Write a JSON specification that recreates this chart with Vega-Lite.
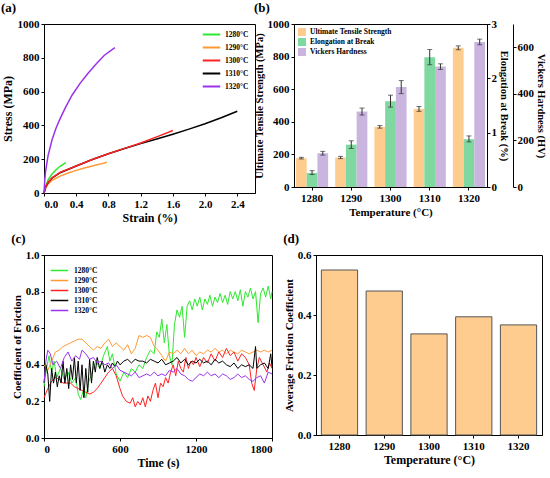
{
  "$schema": "https://vega.github.io/schema/vega-lite/v6.json",
  "padding": {"left": 0, "top": 1, "right": 0, "bottom": 0},
  "config": {
    "font": "Liberation Serif",
    "view": {"stroke": "black", "strokeWidth": 1},
    "axis": {
      "labelFont": "Liberation Serif", "titleFont": "Liberation Serif",
      "labelFontWeight": "bold", "titleFontWeight": "bold",
      "labelFontSize": 11, "titleFontSize": 12,
      "labelColor": "black", "titleColor": "black",
      "domainColor": "black", "tickColor": "black",
      "grid": false, "tickSize": 3, "labelPadding": 2, "titlePadding": 3
    },
    "legend": {
      "labelFont": "Liberation Serif", "labelFontWeight": "bold",
      "labelFontSize": 7.5, "labelColor": "black"
    },
    "title": {
      "font": "Liberation Serif", "fontWeight": "bold", "fontSize": 13,
      "anchor": "start", "frame": "bounds", "color": "black", "offset": 3
    }
  },
  "datasets": {
    "stress": [
      {"T": "1280°C", "x": 0, "y": 0}, {"T": "1280°C", "x": 0.02, "y": 40}, {"T": "1280°C", "x": 0.05, "y": 78},
      {"T": "1280°C", "x": 0.1, "y": 112}, {"T": "1280°C", "x": 0.15, "y": 138}, {"T": "1280°C", "x": 0.2, "y": 158},
      {"T": "1280°C", "x": 0.27, "y": 180},
      {"T": "1290°C", "x": 0, "y": 0}, {"T": "1290°C", "x": 0.02, "y": 28}, {"T": "1290°C", "x": 0.05, "y": 52},
      {"T": "1290°C", "x": 0.1, "y": 75}, {"T": "1290°C", "x": 0.2, "y": 100}, {"T": "1290°C", "x": 0.3, "y": 118},
      {"T": "1290°C", "x": 0.4, "y": 134}, {"T": "1290°C", "x": 0.5, "y": 148}, {"T": "1290°C", "x": 0.6, "y": 160},
      {"T": "1290°C", "x": 0.7, "y": 171}, {"T": "1290°C", "x": 0.78, "y": 182},
      {"T": "1310°C", "x": 0, "y": 0}, {"T": "1310°C", "x": 0.02, "y": 35}, {"T": "1310°C", "x": 0.05, "y": 60},
      {"T": "1310°C", "x": 0.1, "y": 88}, {"T": "1310°C", "x": 0.2, "y": 120}, {"T": "1310°C", "x": 0.4, "y": 160},
      {"T": "1310°C", "x": 0.6, "y": 198}, {"T": "1310°C", "x": 0.8, "y": 232}, {"T": "1310°C", "x": 1.0, "y": 263},
      {"T": "1310°C", "x": 1.2, "y": 292}, {"T": "1310°C", "x": 1.4, "y": 320}, {"T": "1310°C", "x": 1.6, "y": 348},
      {"T": "1310°C", "x": 1.8, "y": 378}, {"T": "1310°C", "x": 2.0, "y": 410}, {"T": "1310°C", "x": 2.2, "y": 445},
      {"T": "1310°C", "x": 2.4, "y": 484},
      {"T": "1300°C", "x": 0, "y": 0}, {"T": "1300°C", "x": 0.02, "y": 35}, {"T": "1300°C", "x": 0.05, "y": 62},
      {"T": "1300°C", "x": 0.1, "y": 90}, {"T": "1300°C", "x": 0.2, "y": 122}, {"T": "1300°C", "x": 0.4, "y": 160},
      {"T": "1300°C", "x": 0.6, "y": 198}, {"T": "1300°C", "x": 0.8, "y": 232}, {"T": "1300°C", "x": 1.0, "y": 264},
      {"T": "1300°C", "x": 1.2, "y": 296}, {"T": "1300°C", "x": 1.4, "y": 332}, {"T": "1300°C", "x": 1.6, "y": 370},
      {"T": "1320°C", "x": 0, "y": 0}, {"T": "1320°C", "x": 0.01, "y": 80}, {"T": "1320°C", "x": 0.02, "y": 130},
      {"T": "1320°C", "x": 0.05, "y": 220}, {"T": "1320°C", "x": 0.1, "y": 315}, {"T": "1320°C", "x": 0.15, "y": 385},
      {"T": "1320°C", "x": 0.2, "y": 440}, {"T": "1320°C", "x": 0.27, "y": 510}, {"T": "1320°C", "x": 0.35, "y": 580},
      {"T": "1320°C", "x": 0.45, "y": 650}, {"T": "1320°C", "x": 0.55, "y": 710}, {"T": "1320°C", "x": 0.65, "y": 765},
      {"T": "1320°C", "x": 0.75, "y": 815}, {"T": "1320°C", "x": 0.88, "y": 860}
    ],
    "props": [
      {"T": "1280", "s": "Ultimate Tensile Strength", "v": 177, "lo": 172, "hi": 182},
      {"T": "1290", "s": "Ultimate Tensile Strength", "v": 181, "lo": 174, "hi": 188},
      {"T": "1300", "s": "Ultimate Tensile Strength", "v": 369, "lo": 361, "hi": 377},
      {"T": "1310", "s": "Ultimate Tensile Strength", "v": 479, "lo": 464, "hi": 494},
      {"T": "1320", "s": "Ultimate Tensile Strength", "v": 854, "lo": 842, "hi": 866},
      {"T": "1280", "s": "Elongation at Break", "v": 0.26, "lo": 0.23, "hi": 0.3},
      {"T": "1290", "s": "Elongation at Break", "v": 0.78, "lo": 0.71, "hi": 0.85},
      {"T": "1300", "s": "Elongation at Break", "v": 1.58, "lo": 1.47, "hi": 1.69},
      {"T": "1310", "s": "Elongation at Break", "v": 2.39, "lo": 2.25, "hi": 2.53},
      {"T": "1320", "s": "Elongation at Break", "v": 0.88, "lo": 0.83, "hi": 0.94},
      {"T": "1280", "s": "Vickers Hardness", "v": 145, "lo": 137, "hi": 153},
      {"T": "1290", "s": "Vickers Hardness", "v": 324, "lo": 309, "hi": 339},
      {"T": "1300", "s": "Vickers Hardness", "v": 429, "lo": 401, "hi": 457},
      {"T": "1310", "s": "Vickers Hardness", "v": 517, "lo": 505, "hi": 529},
      {"T": "1320", "s": "Vickers Hardness", "v": 623, "lo": 611, "hi": 635}
    ],
    "friction": [
      {"T": "1280°C", "t": 0, "v": 0.28}, {"T": "1280°C", "t": 20, "v": 0.38}, {"T": "1280°C", "t": 40, "v": 0.45},
      {"T": "1280°C", "t": 60, "v": 0.36}, {"T": "1280°C", "t": 80, "v": 0.42}, {"T": "1280°C", "t": 100, "v": 0.33},
      {"T": "1280°C", "t": 130, "v": 0.38}, {"T": "1280°C", "t": 160, "v": 0.32}, {"T": "1280°C", "t": 190, "v": 0.36},
      {"T": "1280°C", "t": 220, "v": 0.3}, {"T": "1280°C", "t": 250, "v": 0.33}, {"T": "1280°C", "t": 270, "v": 0.24},
      {"T": "1280°C", "t": 290, "v": 0.21}, {"T": "1280°C", "t": 310, "v": 0.26}, {"T": "1280°C", "t": 330, "v": 0.22},
      {"T": "1280°C", "t": 350, "v": 0.3}, {"T": "1280°C", "t": 380, "v": 0.36}, {"T": "1280°C", "t": 410, "v": 0.42},
      {"T": "1280°C", "t": 440, "v": 0.38}, {"T": "1280°C", "t": 470, "v": 0.45}, {"T": "1280°C", "t": 500, "v": 0.5},
      {"T": "1280°C", "t": 520, "v": 0.42}, {"T": "1280°C", "t": 540, "v": 0.46}, {"T": "1280°C", "t": 570, "v": 0.35},
      {"T": "1280°C", "t": 600, "v": 0.31}, {"T": "1280°C", "t": 630, "v": 0.36}, {"T": "1280°C", "t": 660, "v": 0.33},
      {"T": "1280°C", "t": 690, "v": 0.38}, {"T": "1280°C", "t": 720, "v": 0.36}, {"T": "1280°C", "t": 750, "v": 0.4},
      {"T": "1280°C", "t": 780, "v": 0.38}, {"T": "1280°C", "t": 810, "v": 0.44}, {"T": "1280°C", "t": 840, "v": 0.48},
      {"T": "1280°C", "t": 870, "v": 0.46}, {"T": "1280°C", "t": 890, "v": 0.58}, {"T": "1280°C", "t": 910, "v": 0.55},
      {"T": "1280°C", "t": 930, "v": 0.65}, {"T": "1280°C", "t": 950, "v": 0.52}, {"T": "1280°C", "t": 970, "v": 0.62},
      {"T": "1280°C", "t": 990, "v": 0.45}, {"T": "1280°C", "t": 1010, "v": 0.4}, {"T": "1280°C", "t": 1030, "v": 0.62},
      {"T": "1280°C", "t": 1050, "v": 0.7}, {"T": "1280°C", "t": 1070, "v": 0.66}, {"T": "1280°C", "t": 1090, "v": 0.72},
      {"T": "1280°C", "t": 1110, "v": 0.55}, {"T": "1280°C", "t": 1130, "v": 0.72}, {"T": "1280°C", "t": 1150, "v": 0.75},
      {"T": "1280°C", "t": 1170, "v": 0.7}, {"T": "1280°C", "t": 1190, "v": 0.76}, {"T": "1280°C", "t": 1210, "v": 0.72},
      {"T": "1280°C", "t": 1230, "v": 0.77}, {"T": "1280°C", "t": 1250, "v": 0.7}, {"T": "1280°C", "t": 1270, "v": 0.76},
      {"T": "1280°C", "t": 1290, "v": 0.73}, {"T": "1280°C", "t": 1310, "v": 0.78}, {"T": "1280°C", "t": 1330, "v": 0.72},
      {"T": "1280°C", "t": 1350, "v": 0.77}, {"T": "1280°C", "t": 1370, "v": 0.74}, {"T": "1280°C", "t": 1390, "v": 0.79},
      {"T": "1280°C", "t": 1410, "v": 0.74}, {"T": "1280°C", "t": 1430, "v": 0.78}, {"T": "1280°C", "t": 1450, "v": 0.73},
      {"T": "1280°C", "t": 1470, "v": 0.8}, {"T": "1280°C", "t": 1490, "v": 0.76}, {"T": "1280°C", "t": 1510, "v": 0.8},
      {"T": "1280°C", "t": 1530, "v": 0.75}, {"T": "1280°C", "t": 1550, "v": 0.81}, {"T": "1280°C", "t": 1570, "v": 0.72},
      {"T": "1280°C", "t": 1590, "v": 0.8}, {"T": "1280°C", "t": 1610, "v": 0.77}, {"T": "1280°C", "t": 1630, "v": 0.82},
      {"T": "1280°C", "t": 1650, "v": 0.76}, {"T": "1280°C", "t": 1670, "v": 0.8}, {"T": "1280°C", "t": 1690, "v": 0.63},
      {"T": "1280°C", "t": 1710, "v": 0.79}, {"T": "1280°C", "t": 1730, "v": 0.82}, {"T": "1280°C", "t": 1750, "v": 0.77},
      {"T": "1280°C", "t": 1770, "v": 0.83}, {"T": "1280°C", "t": 1790, "v": 0.76}, {"T": "1280°C", "t": 1800, "v": 0.8},

      {"T": "1290°C", "t": 0, "v": 0.4}, {"T": "1290°C", "t": 30, "v": 0.37}, {"T": "1290°C", "t": 60, "v": 0.42},
      {"T": "1290°C", "t": 90, "v": 0.47}, {"T": "1290°C", "t": 120, "v": 0.48}, {"T": "1290°C", "t": 150, "v": 0.5},
      {"T": "1290°C", "t": 180, "v": 0.51}, {"T": "1290°C", "t": 210, "v": 0.52}, {"T": "1290°C", "t": 240, "v": 0.53},
      {"T": "1290°C", "t": 270, "v": 0.54}, {"T": "1290°C", "t": 300, "v": 0.54}, {"T": "1290°C", "t": 330, "v": 0.52},
      {"T": "1290°C", "t": 360, "v": 0.5}, {"T": "1290°C", "t": 390, "v": 0.48}, {"T": "1290°C", "t": 420, "v": 0.5},
      {"T": "1290°C", "t": 450, "v": 0.49}, {"T": "1290°C", "t": 480, "v": 0.52}, {"T": "1290°C", "t": 510, "v": 0.54},
      {"T": "1290°C", "t": 540, "v": 0.5}, {"T": "1290°C", "t": 570, "v": 0.52}, {"T": "1290°C", "t": 600, "v": 0.5},
      {"T": "1290°C", "t": 630, "v": 0.48}, {"T": "1290°C", "t": 660, "v": 0.51}, {"T": "1290°C", "t": 690, "v": 0.46},
      {"T": "1290°C", "t": 720, "v": 0.49}, {"T": "1290°C", "t": 750, "v": 0.56}, {"T": "1290°C", "t": 780, "v": 0.55},
      {"T": "1290°C", "t": 810, "v": 0.56}, {"T": "1290°C", "t": 840, "v": 0.55}, {"T": "1290°C", "t": 870, "v": 0.5},
      {"T": "1290°C", "t": 900, "v": 0.48}, {"T": "1290°C", "t": 930, "v": 0.45}, {"T": "1290°C", "t": 960, "v": 0.42},
      {"T": "1290°C", "t": 990, "v": 0.47}, {"T": "1290°C", "t": 1020, "v": 0.46}, {"T": "1290°C", "t": 1050, "v": 0.48},
      {"T": "1290°C", "t": 1080, "v": 0.46}, {"T": "1290°C", "t": 1110, "v": 0.49}, {"T": "1290°C", "t": 1140, "v": 0.46},
      {"T": "1290°C", "t": 1170, "v": 0.48}, {"T": "1290°C", "t": 1200, "v": 0.45}, {"T": "1290°C", "t": 1230, "v": 0.47},
      {"T": "1290°C", "t": 1260, "v": 0.46}, {"T": "1290°C", "t": 1290, "v": 0.48}, {"T": "1290°C", "t": 1320, "v": 0.47},
      {"T": "1290°C", "t": 1350, "v": 0.49}, {"T": "1290°C", "t": 1380, "v": 0.47}, {"T": "1290°C", "t": 1410, "v": 0.48},
      {"T": "1290°C", "t": 1440, "v": 0.46}, {"T": "1290°C", "t": 1470, "v": 0.48}, {"T": "1290°C", "t": 1500, "v": 0.47},
      {"T": "1290°C", "t": 1530, "v": 0.46}, {"T": "1290°C", "t": 1560, "v": 0.48}, {"T": "1290°C", "t": 1590, "v": 0.47},
      {"T": "1290°C", "t": 1620, "v": 0.46}, {"T": "1290°C", "t": 1650, "v": 0.47}, {"T": "1290°C", "t": 1680, "v": 0.48},
      {"T": "1290°C", "t": 1710, "v": 0.47}, {"T": "1290°C", "t": 1740, "v": 0.48}, {"T": "1290°C", "t": 1770, "v": 0.47},
      {"T": "1290°C", "t": 1800, "v": 0.48},

      {"T": "1300°C", "t": 0, "v": 0.22}, {"T": "1300°C", "t": 30, "v": 0.27}, {"T": "1300°C", "t": 60, "v": 0.31},
      {"T": "1300°C", "t": 90, "v": 0.33}, {"T": "1300°C", "t": 120, "v": 0.32}, {"T": "1300°C", "t": 150, "v": 0.3},
      {"T": "1300°C", "t": 180, "v": 0.3}, {"T": "1300°C", "t": 210, "v": 0.3}, {"T": "1300°C", "t": 240, "v": 0.28},
      {"T": "1300°C", "t": 270, "v": 0.27}, {"T": "1300°C", "t": 300, "v": 0.26}, {"T": "1300°C", "t": 330, "v": 0.25},
      {"T": "1300°C", "t": 360, "v": 0.24}, {"T": "1300°C", "t": 390, "v": 0.25}, {"T": "1300°C", "t": 420, "v": 0.27},
      {"T": "1300°C", "t": 450, "v": 0.3}, {"T": "1300°C", "t": 480, "v": 0.33}, {"T": "1300°C", "t": 510, "v": 0.36},
      {"T": "1300°C", "t": 540, "v": 0.38}, {"T": "1300°C", "t": 570, "v": 0.34}, {"T": "1300°C", "t": 600, "v": 0.27},
      {"T": "1300°C", "t": 620, "v": 0.23}, {"T": "1300°C", "t": 650, "v": 0.2}, {"T": "1300°C", "t": 680, "v": 0.19},
      {"T": "1300°C", "t": 700, "v": 0.22}, {"T": "1300°C", "t": 720, "v": 0.17}, {"T": "1300°C", "t": 740, "v": 0.2},
      {"T": "1300°C", "t": 760, "v": 0.18}, {"T": "1300°C", "t": 780, "v": 0.22}, {"T": "1300°C", "t": 800, "v": 0.17},
      {"T": "1300°C", "t": 820, "v": 0.23}, {"T": "1300°C", "t": 840, "v": 0.2}, {"T": "1300°C", "t": 860, "v": 0.26},
      {"T": "1300°C", "t": 880, "v": 0.3}, {"T": "1300°C", "t": 900, "v": 0.22}, {"T": "1300°C", "t": 920, "v": 0.3},
      {"T": "1300°C", "t": 940, "v": 0.28}, {"T": "1300°C", "t": 960, "v": 0.33}, {"T": "1300°C", "t": 980, "v": 0.3},
      {"T": "1300°C", "t": 1000, "v": 0.36}, {"T": "1300°C", "t": 1020, "v": 0.4}, {"T": "1300°C", "t": 1040, "v": 0.34},
      {"T": "1300°C", "t": 1060, "v": 0.42}, {"T": "1300°C", "t": 1080, "v": 0.38}, {"T": "1300°C", "t": 1100, "v": 0.36},
      {"T": "1300°C", "t": 1120, "v": 0.44}, {"T": "1300°C", "t": 1140, "v": 0.38}, {"T": "1300°C", "t": 1160, "v": 0.42},
      {"T": "1300°C", "t": 1180, "v": 0.4}, {"T": "1300°C", "t": 1200, "v": 0.44}, {"T": "1300°C", "t": 1230, "v": 0.39},
      {"T": "1300°C", "t": 1260, "v": 0.44}, {"T": "1300°C", "t": 1290, "v": 0.41}, {"T": "1300°C", "t": 1320, "v": 0.46},
      {"T": "1300°C", "t": 1350, "v": 0.42}, {"T": "1300°C", "t": 1380, "v": 0.47}, {"T": "1300°C", "t": 1410, "v": 0.44},
      {"T": "1300°C", "t": 1440, "v": 0.49}, {"T": "1300°C", "t": 1470, "v": 0.45}, {"T": "1300°C", "t": 1500, "v": 0.47},
      {"T": "1300°C", "t": 1530, "v": 0.42}, {"T": "1300°C", "t": 1560, "v": 0.46}, {"T": "1300°C", "t": 1590, "v": 0.44},
      {"T": "1300°C", "t": 1620, "v": 0.4}, {"T": "1300°C", "t": 1640, "v": 0.3}, {"T": "1300°C", "t": 1660, "v": 0.26},
      {"T": "1300°C", "t": 1680, "v": 0.38}, {"T": "1300°C", "t": 1700, "v": 0.44}, {"T": "1300°C", "t": 1730, "v": 0.4},
      {"T": "1300°C", "t": 1760, "v": 0.36}, {"T": "1300°C", "t": 1780, "v": 0.41}, {"T": "1300°C", "t": 1800, "v": 0.38},

      {"T": "1310°C", "t": 0, "v": 0.3}, {"T": "1310°C", "t": 15, "v": 0.4}, {"T": "1310°C", "t": 30, "v": 0.35},
      {"T": "1310°C", "t": 45, "v": 0.2}, {"T": "1310°C", "t": 60, "v": 0.38}, {"T": "1310°C", "t": 75, "v": 0.3},
      {"T": "1310°C", "t": 90, "v": 0.36}, {"T": "1310°C", "t": 105, "v": 0.28}, {"T": "1310°C", "t": 120, "v": 0.34},
      {"T": "1310°C", "t": 135, "v": 0.3}, {"T": "1310°C", "t": 150, "v": 0.42}, {"T": "1310°C", "t": 165, "v": 0.3},
      {"T": "1310°C", "t": 180, "v": 0.38}, {"T": "1310°C", "t": 195, "v": 0.27}, {"T": "1310°C", "t": 210, "v": 0.4},
      {"T": "1310°C", "t": 225, "v": 0.32}, {"T": "1310°C", "t": 240, "v": 0.44}, {"T": "1310°C", "t": 255, "v": 0.3},
      {"T": "1310°C", "t": 270, "v": 0.42}, {"T": "1310°C", "t": 285, "v": 0.26}, {"T": "1310°C", "t": 300, "v": 0.4},
      {"T": "1310°C", "t": 315, "v": 0.22}, {"T": "1310°C", "t": 330, "v": 0.38}, {"T": "1310°C", "t": 345, "v": 0.25},
      {"T": "1310°C", "t": 360, "v": 0.43}, {"T": "1310°C", "t": 375, "v": 0.3}, {"T": "1310°C", "t": 390, "v": 0.42},
      {"T": "1310°C", "t": 405, "v": 0.36}, {"T": "1310°C", "t": 420, "v": 0.44}, {"T": "1310°C", "t": 440, "v": 0.38},
      {"T": "1310°C", "t": 460, "v": 0.42}, {"T": "1310°C", "t": 480, "v": 0.36}, {"T": "1310°C", "t": 500, "v": 0.4},
      {"T": "1310°C", "t": 520, "v": 0.38}, {"T": "1310°C", "t": 540, "v": 0.41}, {"T": "1310°C", "t": 560, "v": 0.39},
      {"T": "1310°C", "t": 580, "v": 0.42}, {"T": "1310°C", "t": 600, "v": 0.4}, {"T": "1310°C", "t": 630, "v": 0.42},
      {"T": "1310°C", "t": 660, "v": 0.43}, {"T": "1310°C", "t": 690, "v": 0.41}, {"T": "1310°C", "t": 720, "v": 0.43},
      {"T": "1310°C", "t": 750, "v": 0.42}, {"T": "1310°C", "t": 780, "v": 0.42}, {"T": "1310°C", "t": 810, "v": 0.41},
      {"T": "1310°C", "t": 840, "v": 0.43}, {"T": "1310°C", "t": 870, "v": 0.42}, {"T": "1310°C", "t": 900, "v": 0.41},
      {"T": "1310°C", "t": 930, "v": 0.43}, {"T": "1310°C", "t": 960, "v": 0.4}, {"T": "1310°C", "t": 990, "v": 0.41},
      {"T": "1310°C", "t": 1020, "v": 0.42}, {"T": "1310°C", "t": 1050, "v": 0.44}, {"T": "1310°C", "t": 1080, "v": 0.41},
      {"T": "1310°C", "t": 1110, "v": 0.43}, {"T": "1310°C", "t": 1140, "v": 0.4}, {"T": "1310°C", "t": 1170, "v": 0.42},
      {"T": "1310°C", "t": 1200, "v": 0.41}, {"T": "1310°C", "t": 1230, "v": 0.43}, {"T": "1310°C", "t": 1260, "v": 0.41},
      {"T": "1310°C", "t": 1290, "v": 0.42}, {"T": "1310°C", "t": 1320, "v": 0.4}, {"T": "1310°C", "t": 1350, "v": 0.43},
      {"T": "1310°C", "t": 1380, "v": 0.41}, {"T": "1310°C", "t": 1410, "v": 0.42}, {"T": "1310°C", "t": 1440, "v": 0.4},
      {"T": "1310°C", "t": 1470, "v": 0.39}, {"T": "1310°C", "t": 1500, "v": 0.41}, {"T": "1310°C", "t": 1530, "v": 0.38},
      {"T": "1310°C", "t": 1560, "v": 0.4}, {"T": "1310°C", "t": 1590, "v": 0.39}, {"T": "1310°C", "t": 1620, "v": 0.4},
      {"T": "1310°C", "t": 1650, "v": 0.38}, {"T": "1310°C", "t": 1670, "v": 0.5}, {"T": "1310°C", "t": 1680, "v": 0.38},
      {"T": "1310°C", "t": 1710, "v": 0.4}, {"T": "1310°C", "t": 1740, "v": 0.41}, {"T": "1310°C", "t": 1770, "v": 0.38},
      {"T": "1310°C", "t": 1790, "v": 0.46}, {"T": "1310°C", "t": 1800, "v": 0.39},

      {"T": "1320°C", "t": 0, "v": 0.3}, {"T": "1320°C", "t": 15, "v": 0.42}, {"T": "1320°C", "t": 30, "v": 0.48},
      {"T": "1320°C", "t": 50, "v": 0.46}, {"T": "1320°C", "t": 70, "v": 0.4}, {"T": "1320°C", "t": 100, "v": 0.42},
      {"T": "1320°C", "t": 130, "v": 0.38}, {"T": "1320°C", "t": 160, "v": 0.44}, {"T": "1320°C", "t": 190, "v": 0.47},
      {"T": "1320°C", "t": 220, "v": 0.42}, {"T": "1320°C", "t": 250, "v": 0.45}, {"T": "1320°C", "t": 280, "v": 0.43},
      {"T": "1320°C", "t": 300, "v": 0.48}, {"T": "1320°C", "t": 330, "v": 0.46}, {"T": "1320°C", "t": 360, "v": 0.43},
      {"T": "1320°C", "t": 390, "v": 0.44}, {"T": "1320°C", "t": 420, "v": 0.41}, {"T": "1320°C", "t": 450, "v": 0.42},
      {"T": "1320°C", "t": 480, "v": 0.4}, {"T": "1320°C", "t": 510, "v": 0.41}, {"T": "1320°C", "t": 540, "v": 0.38},
      {"T": "1320°C", "t": 570, "v": 0.4}, {"T": "1320°C", "t": 600, "v": 0.37}, {"T": "1320°C", "t": 630, "v": 0.36},
      {"T": "1320°C", "t": 660, "v": 0.35}, {"T": "1320°C", "t": 690, "v": 0.34}, {"T": "1320°C", "t": 720, "v": 0.36},
      {"T": "1320°C", "t": 750, "v": 0.33}, {"T": "1320°C", "t": 780, "v": 0.34}, {"T": "1320°C", "t": 810, "v": 0.35},
      {"T": "1320°C", "t": 840, "v": 0.34}, {"T": "1320°C", "t": 870, "v": 0.36}, {"T": "1320°C", "t": 900, "v": 0.34},
      {"T": "1320°C", "t": 930, "v": 0.35}, {"T": "1320°C", "t": 960, "v": 0.34}, {"T": "1320°C", "t": 990, "v": 0.37},
      {"T": "1320°C", "t": 1020, "v": 0.36}, {"T": "1320°C", "t": 1050, "v": 0.38}, {"T": "1320°C", "t": 1080, "v": 0.35},
      {"T": "1320°C", "t": 1110, "v": 0.34}, {"T": "1320°C", "t": 1140, "v": 0.32}, {"T": "1320°C", "t": 1170, "v": 0.31},
      {"T": "1320°C", "t": 1200, "v": 0.33}, {"T": "1320°C", "t": 1230, "v": 0.35}, {"T": "1320°C", "t": 1260, "v": 0.34},
      {"T": "1320°C", "t": 1290, "v": 0.36}, {"T": "1320°C", "t": 1320, "v": 0.34}, {"T": "1320°C", "t": 1350, "v": 0.35},
      {"T": "1320°C", "t": 1380, "v": 0.33}, {"T": "1320°C", "t": 1410, "v": 0.35}, {"T": "1320°C", "t": 1440, "v": 0.34},
      {"T": "1320°C", "t": 1470, "v": 0.32}, {"T": "1320°C", "t": 1500, "v": 0.33}, {"T": "1320°C", "t": 1530, "v": 0.35},
      {"T": "1320°C", "t": 1560, "v": 0.33}, {"T": "1320°C", "t": 1590, "v": 0.34}, {"T": "1320°C", "t": 1620, "v": 0.32},
      {"T": "1320°C", "t": 1650, "v": 0.31}, {"T": "1320°C", "t": 1680, "v": 0.33}, {"T": "1320°C", "t": 1710, "v": 0.34},
      {"T": "1320°C", "t": 1740, "v": 0.3}, {"T": "1320°C", "t": 1770, "v": 0.36}, {"T": "1320°C", "t": 1800, "v": 0.35}
    ],
    "avg": [
      {"T": "1280", "v": 0.55}, {"T": "1290", "v": 0.48}, {"T": "1300", "v": 0.337},
      {"T": "1310", "v": 0.394}, {"T": "1320", "v": 0.367}
    ]
  },
  "spacing": 8,
  "resolve": {"scale": {"color": "independent"}, "legend": {"color": "independent"}},
  "vconcat": [
    {
      "bounds": "flush",
      "spacing": 39,
      "resolve": {"scale": {"color": "independent"}, "legend": {"color": "independent"}},
      "hconcat": [
        {
          "title": {"text": "(a)"},
          "width": 211, "height": 169,
          "data": {"name": "stress"},
          "mark": {"type": "line", "strokeWidth": 1.5},
          "encoding": {
            "x": {"field": "x", "type": "quantitative", "scale": {"domain": [0, 2.62], "nice": false},
                  "axis": {"title": "Strain (%)", "values": [0, 0.4, 0.8, 1.2, 1.6, 2.0, 2.4], "format": ".1f"}},
            "y": {"field": "y", "type": "quantitative", "scale": {"domain": [0, 1000]},
                  "axis": {"title": "Stress (MPa)", "values": [0, 200, 400, 600, 800, 1000], "format": "d"}},
            "color": {"field": "T", "type": "nominal",
                      "scale": {"domain": ["1280°C", "1290°C", "1300°C", "1310°C", "1320°C"],
                                "range": ["#2EE82E", "#FF9933", "#FF2222", "#000000", "#9933EE"]},
                      "legend": {"title": null, "orient": "top-right", "offset": 6, "symbolType": "M-2.5,0H2.5",
                                 "symbolSize": 49, "symbolStrokeWidth": 2, "labelOffset": 9, "rowPadding": 4}}
          }
        },
        {
          "title": {"text": "(b)"},
          "width": 193, "height": 163,
          "data": {"name": "props"},
          "encoding": {
            "x": {"field": "T", "type": "ordinal", "scale": {"paddingInner": 0.18, "paddingOuter": 0.05},
                  "axis": {"title": "Temperature (°C)", "labelAngle": 0, "titleFontSize": 11}},
            "xOffset": {"field": "s", "type": "nominal",
                        "scale": {"domain": ["Ultimate Tensile Strength", "Elongation at Break", "Vickers Hardness"]}}
          },
          "layer": [
            {
              "transform": [{"filter": "datum.s === 'Ultimate Tensile Strength'"}],
              "mark": "bar",
              "encoding": {
                "y": {"field": "v", "type": "quantitative", "scale": {"domain": [0, 1000]},
                      "axis": {"orient": "left", "title": "Ultimate Tensile Strength (MPa)", "titleFontSize": 10.5,
                               "values": [0, 200, 400, 600, 800, 1000], "format": "d"}},
                "color": {"field": "s", "type": "nominal",
                          "scale": {"domain": ["Ultimate Tensile Strength", "Elongation at Break", "Vickers Hardness"],
                                    "range": ["#FFCC8F", "#7FD8A0", "#C9B5DE"]},
                          "legend": {"title": null, "orient": "top-left", "offset": 4, "symbolType": "square",
                                     "symbolSize": 64, "symbolStrokeWidth": 0, "rowPadding": 2}}
              }
            },
            {
              "transform": [{"filter": "datum.s === 'Ultimate Tensile Strength'"}],
              "mark": {"type": "rule", "color": "#333", "strokeWidth": 1},
              "encoding": {
                "y": {"field": "lo", "type": "quantitative", "scale": {"domain": [0, 1000]}, "axis": null},
                "y2": {"field": "hi"}
              }
            },
            {
              "transform": [{"filter": "datum.s === 'Ultimate Tensile Strength'"}, {"fold": ["lo", "hi"]}],
              "mark": {"type": "tick", "color": "#333", "size": 5, "thickness": 1},
              "encoding": {
                "y": {"field": "value", "type": "quantitative", "scale": {"domain": [0, 1000]}, "axis": null}
              }
            },
            {
              "transform": [{"filter": "datum.s === 'Elongation at Break'"}],
              "mark": "bar",
              "encoding": {
                "y": {"field": "v", "type": "quantitative", "scale": {"domain": [0, 3]},
                      "axis": {"orient": "right", "title": "Elongation at Break (%)", "titleFontSize": 10.5,
                               "values": [0, 1, 2, 3], "labelPadding": 1, "titlePadding": 2}},
                "color": {"field": "s", "type": "nominal",
                          "scale": {"domain": ["Ultimate Tensile Strength", "Elongation at Break", "Vickers Hardness"],
                                    "range": ["#FFCC8F", "#7FD8A0", "#C9B5DE"]},
                          "legend": {"title": null, "orient": "top-left", "offset": 4, "symbolType": "square",
                                     "symbolSize": 64, "symbolStrokeWidth": 0, "rowPadding": 2}}
              }
            },
            {
              "transform": [{"filter": "datum.s === 'Elongation at Break'"}],
              "mark": {"type": "rule", "color": "#333", "strokeWidth": 1},
              "encoding": {
                "y": {"field": "lo", "type": "quantitative", "scale": {"domain": [0, 3]}, "axis": null},
                "y2": {"field": "hi"}
              }
            },
            {
              "transform": [{"filter": "datum.s === 'Elongation at Break'"}, {"fold": ["lo", "hi"]}],
              "mark": {"type": "tick", "color": "#333", "size": 5, "thickness": 1},
              "encoding": {
                "y": {"field": "value", "type": "quantitative", "scale": {"domain": [0, 3]}, "axis": null}
              }
            },
            {
              "transform": [{"filter": "datum.s === 'Vickers Hardness'"}],
              "mark": "bar",
              "encoding": {
                "y": {"field": "v", "type": "quantitative", "scale": {"domain": [0, 700]},
                      "axis": {"orient": "right", "offset": 26, "title": "Vickers Hardness (HV)", "titleFontSize": 10.5,
                               "values": [0, 200, 400, 600], "labelPadding": 1, "titlePadding": 2}},
                "color": {"field": "s", "type": "nominal",
                          "scale": {"domain": ["Ultimate Tensile Strength", "Elongation at Break", "Vickers Hardness"],
                                    "range": ["#FFCC8F", "#7FD8A0", "#C9B5DE"]},
                          "legend": {"title": null, "orient": "top-left", "offset": 4, "symbolType": "square",
                                     "symbolSize": 64, "symbolStrokeWidth": 0, "rowPadding": 2}}
              }
            },
            {
              "transform": [{"filter": "datum.s === 'Vickers Hardness'"}],
              "mark": {"type": "rule", "color": "#333", "strokeWidth": 1},
              "encoding": {
                "y": {"field": "lo", "type": "quantitative", "scale": {"domain": [0, 700]}, "axis": null},
                "y2": {"field": "hi"}
              }
            },
            {
              "transform": [{"filter": "datum.s === 'Vickers Hardness'"}, {"fold": ["lo", "hi"]}],
              "mark": {"type": "tick", "color": "#333", "size": 5, "thickness": 1},
              "encoding": {
                "y": {"field": "value", "type": "quantitative", "scale": {"domain": [0, 700]}, "axis": null}
              }
            }
          ],
          "resolve": {"scale": {"y": "independent"}, "axis": {"y": "independent"}}
        }
      ]
    },
    {
      "bounds": "flush",
      "spacing": 44,
      "resolve": {"scale": {"color": "independent"}, "legend": {"color": "independent"}},
      "hconcat": [
        {
          "title": {"text": "(c)"},
          "width": 228, "height": 183,
          "data": {"name": "friction"},
          "mark": {"type": "line", "strokeWidth": 1},
          "encoding": {
            "x": {"field": "t", "type": "quantitative", "scale": {"domain": [0, 1800], "nice": false},
                  "axis": {"title": "Time (s)", "values": [0, 600, 1200, 1800], "format": "d"}},
            "y": {"field": "v", "type": "quantitative", "scale": {"domain": [0, 1]},
                  "axis": {"title": "Coefficient of Friction", "titleFontSize": 11, "values": [0, 0.2, 0.4, 0.6, 0.8, 1.0], "format": ".1f"}},
            "color": {"field": "T", "type": "nominal",
                      "scale": {"domain": ["1280°C", "1290°C", "1300°C", "1310°C", "1320°C"],
                                "range": ["#2EE82E", "#FF9933", "#FF2222", "#000000", "#9933EE"]},
                      "legend": {"title": null, "orient": "top-left", "offset": 11, "symbolType": "M-2.5,0H2.5",
                                 "symbolSize": 49, "symbolStrokeWidth": 1.5, "labelOffset": 10, "rowPadding": 2}}
          }
        },
        {
          "title": {"text": "(d)"},
          "width": 226, "height": 180,
          "data": {"name": "avg"},
          "mark": {"type": "bar", "fill": "#FFCC90", "stroke": "#555555", "strokeWidth": 1},
          "encoding": {
            "x": {"field": "T", "type": "ordinal", "scale": {"paddingInner": 0.19, "paddingOuter": 0.12},
                  "axis": {"title": "Temperature (°C)", "labelAngle": 0}},
            "y": {"field": "v", "type": "quantitative", "scale": {"domain": [0, 0.6]},
                  "axis": {"title": "Average Friction Coefficient", "titleFontSize": 11, "values": [0, 0.2, 0.4, 0.6], "format": ".1f"}}
          }
        }
      ]
    }
  ]
}
